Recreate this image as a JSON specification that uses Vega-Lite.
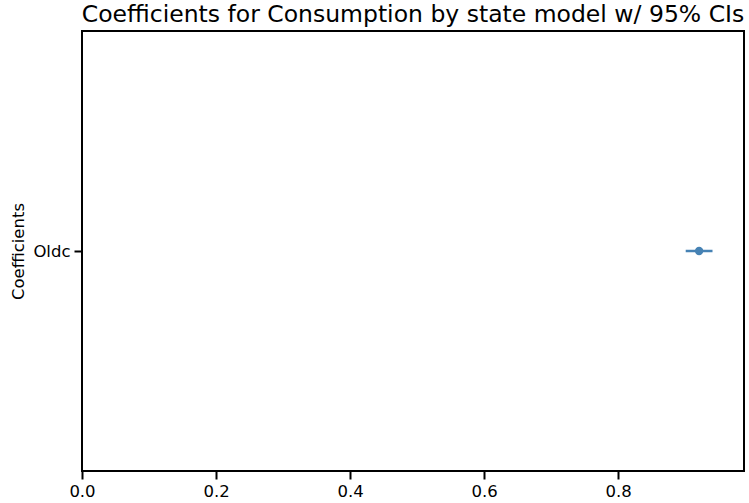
{
  "$schema": "https://vega.github.io/schema/vega-lite/v6.json",
  "autosize": "none",
  "width": 662,
  "height": 440,
  "padding": {"left": 82, "top": 31, "right": 5, "bottom": 32},
  "background": "white",
  "title": {
    "text": "Coefficients for Consumption by state model w/ 95% CIs",
    "font": "DejaVu Sans",
    "fontSize": 23.5,
    "fontWeight": "normal",
    "color": "black",
    "anchor": "middle",
    "offset": 5
  },
  "config": {
    "view": {"stroke": "black", "strokeWidth": 2},
    "axis": {
      "grid": false,
      "domain": false,
      "tickColor": "black",
      "tickWidth": 2,
      "tickSize": 8,
      "labelColor": "black",
      "labelFont": "DejaVu Sans",
      "labelFontSize": 16.5,
      "labelFlush": false,
      "titleFont": "DejaVu Sans",
      "titleFontSize": 16.5,
      "titleFontWeight": "normal",
      "titleColor": "black"
    }
  },
  "data": {"values": [{"term": "Oldc", "estimate": 0.921, "lower": 0.901, "upper": 0.941}]},
  "layer": [
    {
      "mark": {"type": "rule", "color": "#4682b4", "strokeWidth": 2.5},
      "encoding": {
        "x": {"field": "lower", "type": "quantitative", "scale": {"domain": [0, 0.988], "nice": false, "zero": false},
          "axis": {"values": [0, 0.2, 0.4, 0.6, 0.8], "format": ".1f", "title": null, "labelPadding": 4}},
        "x2": {"field": "upper"},
        "y": {"field": "term", "type": "nominal", "scale": {"type": "point", "padding": 0.5},
          "axis": {"title": "Coefficients", "titlePadding": 6, "labelPadding": 4}}
      }
    },
    {
      "mark": {"type": "point", "filled": true, "opacity": 1, "color": "#4682b4", "size": 70},
      "encoding": {
        "x": {"field": "estimate", "type": "quantitative"},
        "y": {"field": "term", "type": "nominal"}
      }
    }
  ]
}
